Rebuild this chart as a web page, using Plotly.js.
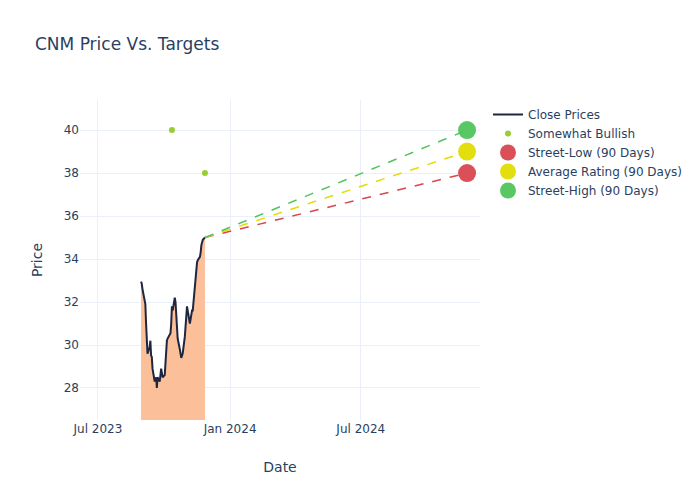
<!DOCTYPE html>
<html>
<head>
<meta charset="utf-8">
<script src="https://cdn.plot.ly/plotly-3.0.1.min.js"></script>
<style>html,body{margin:0;padding:0;background:#fff;}#chart{width:700px;height:500px;}</style>
</head>
<body>
<div id="chart"></div>
<script>
const dates = [
  "2023-08-30","2023-08-31","2023-09-01","2023-09-05","2023-09-06","2023-09-07","2023-09-08",
  "2023-09-11","2023-09-12","2023-09-13","2023-09-14","2023-09-15",
  "2023-09-18","2023-09-19","2023-09-20","2023-09-21","2023-09-22",
  "2023-09-25","2023-09-26","2023-09-27","2023-09-28","2023-09-29",
  "2023-10-02","2023-10-03","2023-10-04","2023-10-05","2023-10-06",
  "2023-10-09","2023-10-10","2023-10-11","2023-10-12","2023-10-13",
  "2023-10-16","2023-10-17","2023-10-18","2023-10-19","2023-10-20",
  "2023-10-23","2023-10-24","2023-10-25","2023-10-26","2023-10-27",
  "2023-10-30","2023-10-31","2023-11-01","2023-11-02","2023-11-03",
  "2023-11-06","2023-11-07","2023-11-08","2023-11-09","2023-11-10",
  "2023-11-13","2023-11-14","2023-11-15","2023-11-16","2023-11-17",
  "2023-11-20","2023-11-21","2023-11-22","2023-11-24","2023-11-27"
];
const closePrices = [
  32.95,32.85,32.6,31.9,31.0,29.8,29.6,
  29.9,30.2,29.5,29.45,28.9,
  28.3,28.4,28.5,28.0,28.5,
  28.3,28.5,28.9,28.7,28.5,
  28.6,29.3,29.9,30.2,30.3,
  30.45,30.55,31.0,31.8,31.6,
  32.2,32.0,31.5,30.8,30.3,
  29.8,29.6,29.4,29.5,29.6,
  30.4,30.9,31.5,31.8,31.6,
  31.0,31.2,31.5,31.6,31.6,
  32.7,33.3,33.8,33.85,33.95,
  34.1,34.3,34.65,34.9,35.0
];
const ratingDates = ["2023-10-12","2023-11-27"];
const ratingTargets = [40, 38];
const targetDate = "2024-11-26";
const targetNames = ["Street-Low (90 Days)","Average Rating (90 Days)","Street-High (90 Days)"];
const targetValues = [38, 39, 40];
const targetColors = ["#d9464f","#e2dc00","#50c45c"];

const lastDate = dates[dates.length-1];
const lastPrice = closePrices[closePrices.length-1];

const traces = [];
traces.push({
  x: dates, y: closePrices, type: "scatter", mode: "none", showlegend: false, hoverinfo: "skip",
  fill: "tozeroy", fillcolor: "rgb(251,191,153)"
});
traces.push({
  x: dates, y: closePrices, type: "scatter", mode: "lines", name: "Close Prices",
  line: {color: "#1f2640", width: 2}
});
traces.push({
  x: ratingDates, y: ratingTargets, type: "scatter", mode: "markers", name: "Somewhat Bullish",
  marker: {color: "#9acd32", size: 6}
});
for (let i = 0; i < targetNames.length; i++) {
  traces.push({
    x: [lastDate, targetDate], y: [lastPrice, targetValues[i]], type: "scatter", mode: "lines",
    line: {color: targetColors[i], dash: "dash", width: 1.5}, showlegend: false, hoverinfo: "skip"
  });
}
for (let i = 0; i < targetNames.length; i++) {
  traces.push({
    x: [targetDate], y: [targetValues[i]], type: "scatter", mode: "markers", name: targetNames[i],
    marker: {color: targetColors[i], size: 18, opacity: 0.95}
  });
}

const layout = {
  width: 700, height: 500,
  margin: {l: 80, r: 220, t: 100, b: 80},
  paper_bgcolor: "#fff", plot_bgcolor: "#fff",
  font: {family: "'DejaVu Sans', sans-serif", color: "#2a3f5f", size: 12},
  title: {text: "CNM Price Vs. Targets", x: 0.05, font: {size: 17}},
  xaxis: {
    title: {text: "Date"}, type: "date",
    range: ["2023-06-06", "2024-12-14"],
    dtick: "M6", tick0: "2023-07-01", tickformat: "%b %Y",
    gridcolor: "#EBF0F8", zeroline: false, showline: false
  },
  yaxis: {
    title: {text: "Price"}, range: [26.51, 41.4], dtick: 2,
    gridcolor: "#EBF0F8", zeroline: false, showline: false
  },
  legend: {x: 1.02, y: 1, font: {size: 12}},
  showlegend: true
};
Plotly.newPlot("chart", traces, layout, {staticPlot: true});
</script>
</body>
</html>
